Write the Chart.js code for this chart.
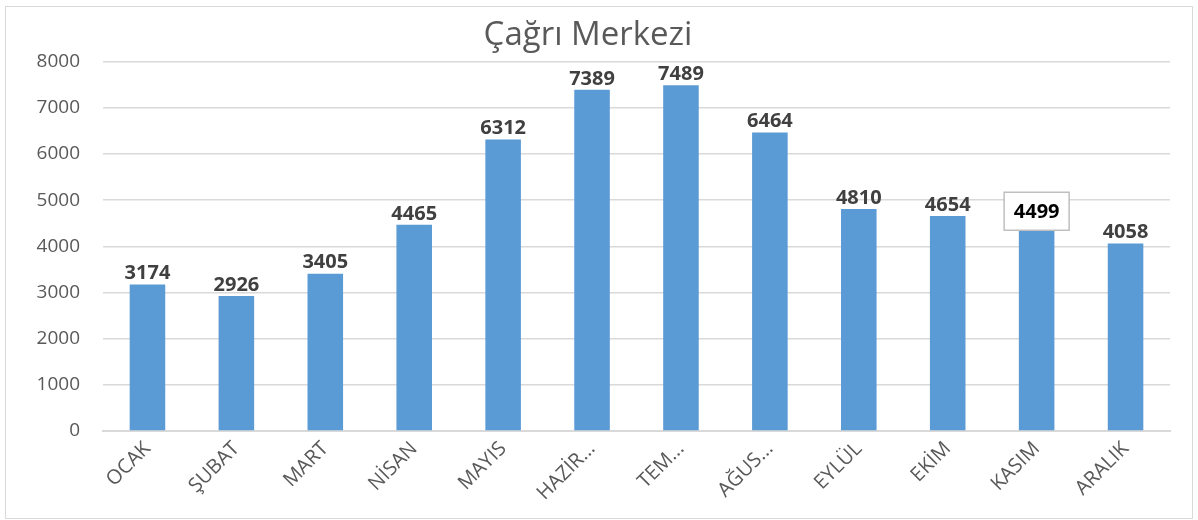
<!DOCTYPE html>
<html>
<head>
<meta charset="utf-8">
<script src="https://cdn.jsdelivr.net/npm/chart.js@4"></script>
<style>
  body { margin: 0; background: #fff; }
  #frame {
    position: absolute; left: 5px; top: 6px;
    width: 1186px; height: 511px;
    border: 1px solid #d9d9d9;
  }
</style>
</head>
<body>
<div id="frame"><canvas id="callChart" width="1186" height="511"></canvas></div>
<script>
// Aylar ve değerler
const months = ["OCAK", "ŞUBAT", "MART", "NİSAN", "MAYIS", "HAZİRAN", "TEMMUZ", "AĞUSTOS", "EYLÜL", "EKİM", "KASIM", "ARALIK"];
const tickLabels = ["OCAK", "ŞUBAT", "MART", "NİSAN", "MAYIS", "HAZİR...", "TEM...", "AĞUS...", "EYLÜL", "EKİM", "KASIM", "ARALIK"];
const calls = [3174, 2926, 3405, 4465, 6312, 7389, 7489, 6464, 4810, 4654, 4499, 4058];
const boxedIndex = 10; // KASIM etiketi çerçeveli

const fontFamily = "'Open Sans', 'Noto Sans', sans-serif";

// Bar üstü değer etiketleri
const valueLabels = {
    id: "valueLabels",
    afterDatasetsDraw(chart) {
        const ctx = chart.ctx;
        const meta = chart.getDatasetMeta(0);
        ctx.save();
        ctx.font = "bold 20px " + fontFamily;
        ctx.textAlign = "center";
        ctx.textBaseline = "middle";
        meta.data.forEach((bar, i) => {
            const y = bar.y - 12;
            const text = String(calls[i]);
            if (i === boxedIndex) {
                const w = 65, h = 38;
                ctx.fillStyle = "#ffffff";
                ctx.fillRect(bar.x - w / 2, y - h / 2, w, h);
                ctx.strokeStyle = "#bfbfbf";
                ctx.lineWidth = 1.5;
                ctx.strokeRect(bar.x - w / 2, y - h / 2, w, h);
                ctx.fillStyle = "#000000";
            } else {
                ctx.fillStyle = "#404040";
            }
            ctx.fillText(text, bar.x, y + 1);
        });
        ctx.restore();
    }
};

new Chart(document.getElementById("callChart"), {
    type: "bar",
    data: {
        labels: months,
        datasets: [{
            data: calls,
            backgroundColor: "#5b9bd5",
            barPercentage: 0.4,
            categoryPercentage: 1
        }]
    },
    options: {
        responsive: false,
        animation: false,
        layout: { padding: { top: 0, right: 22, bottom: 0, left: 0 } },
        plugins: {
            legend: { display: false },
            tooltip: { enabled: false },
            title: {
                display: true,
                text: "Çağrı Merkezi",
                color: "#595959",
                font: { family: fontFamily, size: 33, weight: "normal" },
                padding: { top: 9, bottom: 6 }
            }
        },
        scales: {
            x: {
                grid: { display: false, drawTicks: false },
                border: { color: "#d9d9d9", width: 2 },
                ticks: {
                    color: "#595959",
                    font: { family: fontFamily, size: 20 },
                    minRotation: 45,
                    maxRotation: 45,
                    padding: 6,
                    callback: (v, i) => tickLabels[i]
                },
                afterFit: s => { s.height = 87; }
            },
            y: {
                min: 0,
                max: 8000,
                grid: { color: "#d9d9d9", lineWidth: 1.5, drawTicks: false },
                border: { display: false },
                ticks: {
                    stepSize: 1000,
                    color: "#595959",
                    font: { family: fontFamily, size: 19 },
                    padding: 23,
                    callback: v => String(v)
                },
                afterFit: s => { s.width = 97; }
            }
        }
    },
    plugins: [valueLabels]
});
</script>
</body>
</html>
